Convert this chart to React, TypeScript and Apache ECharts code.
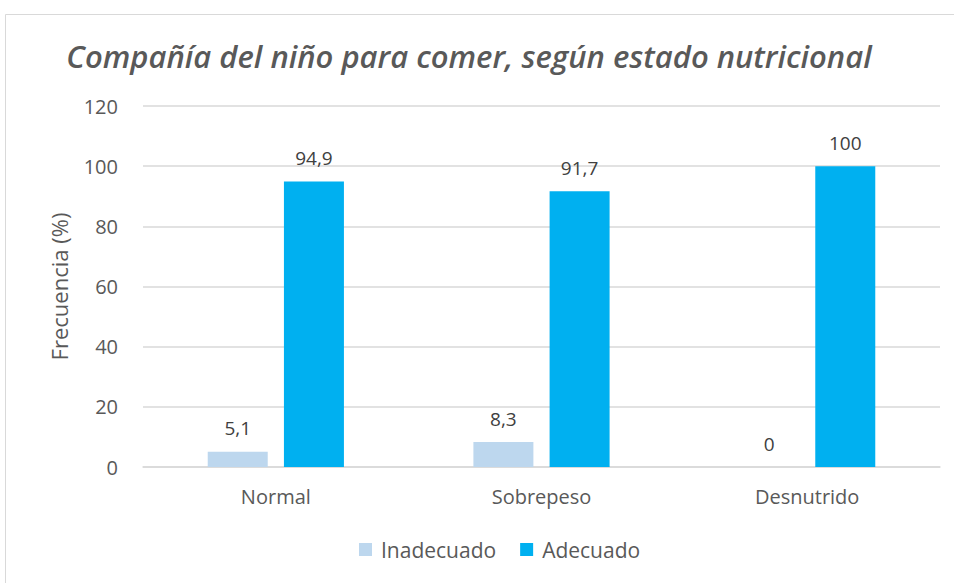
import React, { useEffect, useRef } from "react";
import * as echarts from "echarts";

const categories = ["Normal", "Sobrepeso", "Desnutrido"];
const inadecuado = [5.1, 8.3, 0];
const adecuado = [94.9, 91.7, 100];
const seriesNames = ["Inadecuado", "Adecuado"];
const titleText = "Compañía del niño para comer, según estado nutricional";
const yAxisName = "Frecuencia (%)";

const FONT = "'Open Sans', sans-serif";

export default function App() {
  const ref = useRef<HTMLDivElement>(null);
  useEffect(() => {
    document.body.style.margin = "0";
    const chart = echarts.init(ref.current!, null, { renderer: "svg" });
    const fmt = (p: any) => String(p.value).replace(".", ",");
    const labelStyle = {
      show: true,
      position: "top",
      distance: 14,
      formatter: fmt,
      fontFamily: FONT,
      fontSize: 19,
      color: "#404040",
    };
    chart.setOption({
      animation: false,
      backgroundColor: "#ffffff",
      title: {
        text: titleText,
        left: 464,
        textAlign: "center",
        top: 35,
        textStyle: {
          fontFamily: FONT,
          fontStyle: "italic",
          fontWeight: 600,
          fontSize: 31,
          color: "#595959",
        },
      },
      graphic: [
        {
          type: "rect",
          shape: { x: 5.5, y: 14.5, width: 960, height: 600 },
          style: { fill: "none", stroke: "#d9d9d9", lineWidth: 1 },
          silent: true,
        },
      ],
      legend: {
        bottom: 18,
        left: 354,
        itemWidth: 13,
        itemHeight: 13,
        itemGap: 24,
        icon: "rect",
        textStyle: { fontFamily: FONT, fontSize: 21, color: "#595959", padding: [0, 0, 0, 4] },
        data: seriesNames,
      },
      grid: { left: 143, right: 14, top: 106, bottom: 116 },
      xAxis: {
        type: "category",
        data: categories,
        axisTick: { show: false },
        axisLine: { lineStyle: { color: "#d9d9d9", width: 1.5 } },
        axisLabel: {
          fontFamily: FONT,
          fontSize: 20,
          color: "#595959",
          margin: 19,
        },
      },
      yAxis: {
        type: "value",
        min: 0,
        max: 120,
        interval: 20,
        name: yAxisName,
        nameLocation: "middle",
        nameGap: 73,
        nameTextStyle: { fontFamily: FONT, fontSize: 22, color: "#595959" },
        axisLabel: {
          fontFamily: FONT,
          fontSize: 20,
          color: "#595959",
          margin: 25,
        },
        splitLine: { lineStyle: { color: "#d9d9d9", width: 1.5 } },
      },
      series: [
        {
          name: seriesNames[0],
          type: "bar",
          data: inadecuado,
          barWidth: 60,
          barGap: "27%",
          itemStyle: { color: "#BDD7EE" },
          label: labelStyle,
        },
        {
          name: seriesNames[1],
          type: "bar",
          data: adecuado,
          barWidth: 60,
          barGap: "27%",
          itemStyle: { color: "#00B0F0" },
          label: labelStyle,
        },
      ],
    });
    return () => chart.dispose();
  }, []);
  return (
    <div
      ref={ref}
      style={{ position: "absolute", left: 0, top: 0, width: 954, height: 583 }}
    />
  );
}
